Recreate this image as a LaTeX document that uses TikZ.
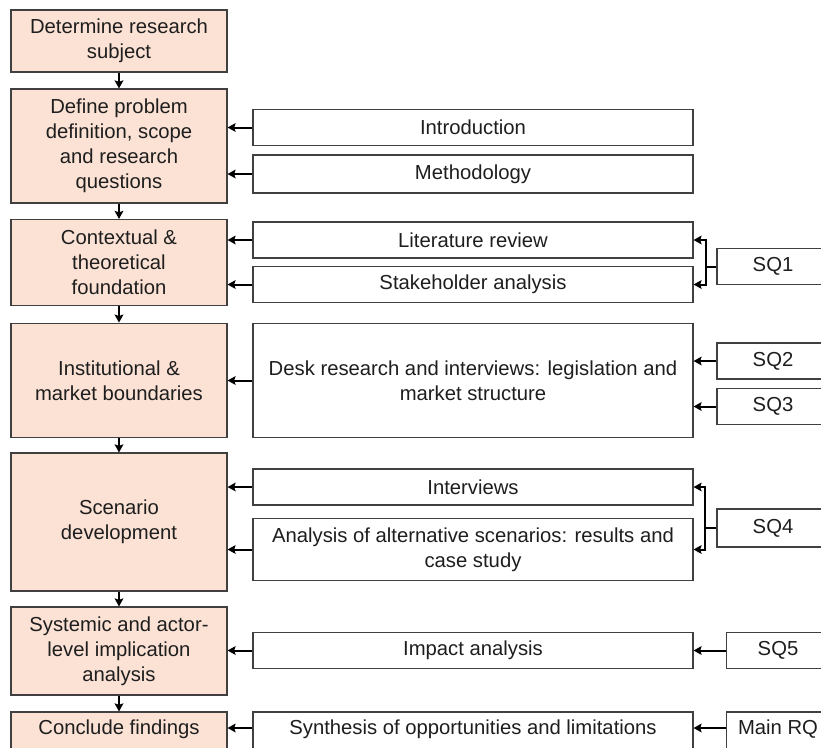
\documentclass[tikz,border=0pt]{standalone}
\usepackage{fontspec}
\setmainfont{Liberation Sans}
\usetikzlibrary{arrows.meta}
\definecolor{peach}{RGB}{251,226,213}
\definecolor{edge}{RGB}{64,64,64}
\definecolor{ink}{RGB}{30,30,30}
\begin{document}
\begin{tikzpicture}[x=0.75pt,y=-0.75pt,
  every node/.style={font=\fontsize{15.2pt}{18.75pt}\selectfont, text=ink, align=center, inner sep=0pt},
  stage/.style={draw=edge, line width=0.85pt, fill=peach, minimum width=162pt},
  task/.style={draw=edge, line width=0.85pt, fill=white, minimum width=330pt},
  question/.style={draw=edge, line width=0.85pt, fill=white, minimum width=84pt},
  cutoff/.style={minimum height=36pt, text height=10pt, text depth=12pt},
  flow/.style={draw=black, line width=1.5pt, -{Stealth[length=6pt,width=6.5pt,inset=1pt]}}]
\useasboundingbox (0,0) rectangle (821,747);
\clip (0,0) rectangle (821,747);
\fill[white] (0,0) rectangle (821,747);

% main process, left column
\node[stage, minimum height=46.5pt] (s1) at (119,41) {Determine research\\subject};
\node[stage, minimum height=85.5pt] (s2) at (119,146) {Define problem\\definition, scope\\and research\\questions};
\node[stage, minimum height=64.5pt] (s3) at (119,262.5) {Contextual \&\\theoretical\\foundation};
\node[stage, minimum height=86pt] (s4) at (119,380.5) {Institutional \&\\market boundaries};
\node[stage, minimum height=103.5pt] (s5) at (119,522) {Scenario\\development};
\node[stage, minimum height=66pt] (s6) at (119,651) {Systemic and actor-\\level implication\\analysis};
\node[stage, cutoff] (s7) at (119,736) {Conclude findings};

% chapters, middle column
\node[task, minimum height=27.5pt] (intro) at (473,127.5) {Introduction};
\node[task, minimum height=28.5pt] (meth) at (473,174) {Methodology};
\node[task, minimum height=27pt] (lit) at (473,240) {Literature review};
\node[task, minimum height=27.5pt] (stake) at (473,284.5) {Stakeholder analysis};
\node[task, minimum height=86pt] (desk) at (473,380.5) {Desk research and interviews: legislation and\\market structure};
\node[task, minimum height=27pt] (intv) at (473,487) {Interviews};
\node[task, minimum height=47pt] (alt) at (473,549.5) {Analysis of alternative scenarios: results and\\case study};
\node[task, minimum height=27.5pt] (imp) at (473,650.5) {Impact analysis};
\node[task, cutoff] (syn) at (473,736) {Synthesis of opportunities and limitations};

% research questions, right column
\node[question, minimum height=27.5pt] (sq1) at (773,266.5) {SQ1};
\node[question, minimum height=27pt] (sq2) at (773,361) {SQ2};
\node[question, minimum height=27.5pt] (sq3) at (773,406.5) {SQ3};
\node[question, minimum height=28.5pt] (sq4) at (773,528) {SQ4};
\node[question, minimum width=77pt, minimum height=27.5pt] (sq5) at (778,650.5) {SQ5};
\node[question, minimum width=77pt, cutoff] (rq) at (778,736) {Main RQ};

% sequence of stages
\draw[flow] (s1) -- (s2);
\draw[flow] (s2) -- (s3);
\draw[flow] (s3) -- (s4);
\draw[flow] (s4) -- (s5);
\draw[flow] (s5) -- (s6);
\draw[flow] (s6) -- (s7);

% chapters feeding the stages
\draw[flow] (intro) -- (intro.west -| s2.east);
\draw[flow] (meth) -- (meth.west -| s2.east);
\draw[flow] (lit) -- (lit.west -| s3.east);
\draw[flow] (stake) -- (stake.west -| s3.east);
\draw[flow] (desk) -- (desk.west -| s4.east);
\draw[flow] (intv) -- (intv.west -| s5.east);
\draw[flow] (alt) -- (alt.west -| s5.east);
\draw[flow] (imp) -- (imp.west -| s6.east);
\draw[flow] (syn.west |- 728,728) -- (s7.east |- 728,728);

% questions feeding the chapters
\coordinate (j1) at (706,266.5);
\coordinate (j4) at (705,528);
\draw[line width=1.5pt] (sq1.west) -- (j1);
\draw[flow] (j1) |- (lit.east);
\draw[flow] (j1) |- (stake.east);
\draw[flow] (sq2.west) -- (sq2.west -| desk.east);
\draw[flow] (sq3.west) -- (sq3.west -| desk.east);
\draw[line width=1.5pt] (sq4.west) -- (j4);
\draw[flow] (j4) |- (intv.east);
\draw[flow] (j4) |- (alt.east);
\draw[flow] (sq5) -- (imp);
\draw[flow] (rq.west |- 728,728) -- (syn.east |- 728,728);
\end{tikzpicture}
\end{document}
